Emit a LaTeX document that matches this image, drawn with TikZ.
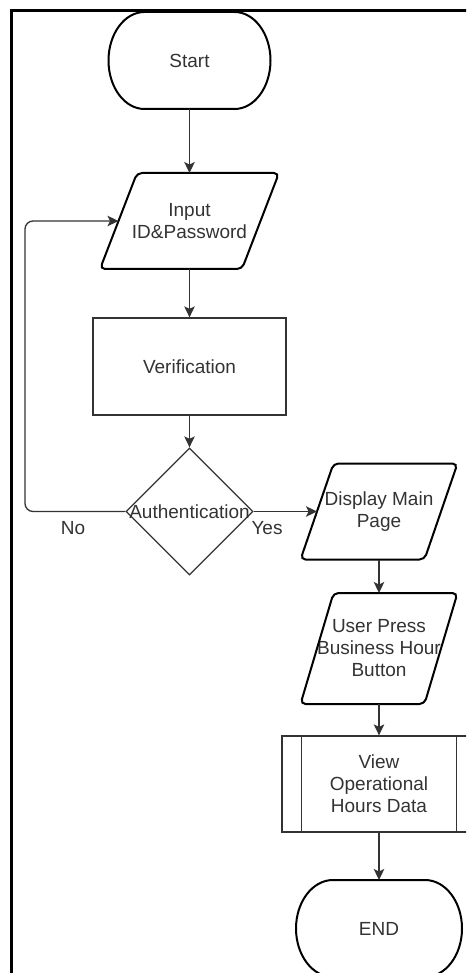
\documentclass[tikz,border=0pt]{standalone}
\usepackage{fontspec}
\setmainfont{Liberation Sans}
\usetikzlibrary{shapes.geometric,arrows.meta,calc}
\definecolor{ink}{HTML}{333333}
\begin{document}
\begin{tikzpicture}[x=1pt,y=-1pt,
  every node/.style={font=\fontsize{19}{22}\selectfont, text=ink, align=center},
  termspace/.style={minimum width=162pt, minimum height=97pt, inner sep=0pt, outer sep=0pt},
  termline/.style={draw=black, line width=2pt},
  proc/.style={draw=ink, line width=1.3pt, minimum width=193pt, minimum height=97pt, inner sep=0pt},
  iospace/.style={minimum height=96pt, inner sep=0pt, outer sep=0pt},
  iobox/.style={draw=black, line width=2pt, rounded corners=5pt},
  decision/.style={diamond, draw=ink, line width=1.3pt, minimum width=127pt, minimum height=127pt, inner sep=0pt, aspect=1},
  arr/.style={draw=ink, line width=1.3pt, -{Stealth[length=11pt,width=10.5pt,inset=2.5pt]}},
  frame/.style={draw=black, line width=2.5pt}]

% page area
\clip (0,0) rectangle (466,973);
\draw[frame] (11.5,1000) -- (11.5,10.5) -- (500,10.5);

% left column
\node[termspace] (start) at (189.5,60.5) {Start};
\draw[termline] ([xshift=36pt]start.north west) -- ([xshift=-36pt]start.north east)
  arc[start angle=90, end angle=-90, x radius=36pt, y radius=48.5pt]
  -- ([xshift=36pt]start.south west)
  arc[start angle=270, end angle=90, x radius=36pt, y radius=48.5pt] -- cycle;
\node[iospace, minimum width=179pt] (inp) at (189.5,221) {Input\\ID\&Password};
\draw[iobox] ([xshift=37pt]inp.north west) -- (inp.north east) -- ([xshift=-37pt]inp.south east) -- (inp.south west) -- cycle;
\coordinate (inpL) at ($(inp.west)+(18.5,0)$);
\node[proc] (ver) at (189.5,366.5) {Verification};
\node[decision] (auth) at (189.5,511.5) {};
\node (authtxt) at (auth) {Authentication};

% right column
\node[iospace, minimum width=157pt] (disp) at (379,511.5) {Display Main\\Page};
\draw[iobox] ([xshift=33pt]disp.north west) -- (disp.north east) -- ([xshift=-33pt]disp.south east) -- (disp.south west) -- cycle;
\coordinate (dispL) at ($(disp.west)+(16.5,0)$);
\node[iospace, minimum width=157pt, minimum height=111pt] (press) at (379,648.5) {User Press\\Business Hour\\Button};
\draw[iobox] ([xshift=33pt]press.north west) -- (press.north east) -- ([xshift=-33pt]press.south east) -- (press.south west) -- cycle;
\node[proc, minimum width=194pt, minimum height=96pt] (view) at (379,784) {View\\Operational\\Hours Data};
\draw[draw=ink, line width=1.3pt] ([xshift=20pt]view.north west) -- ([xshift=20pt]view.south west)
  ([xshift=-20pt]view.north east) -- ([xshift=-20pt]view.south east);
\node[termspace, minimum width=166pt] (end) at (379,928.5) {END};
\draw[termline] ([xshift=37pt]end.north west) -- ([xshift=-37pt]end.north east)
  arc[start angle=90, end angle=-90, x radius=37pt, y radius=48.5pt]
  -- ([xshift=37pt]end.south west)
  arc[start angle=270, end angle=90, x radius=37pt, y radius=48.5pt] -- cycle;

% connectors
\draw[arr] (start.south) -- (inp.north);
\draw[arr] (inp.south) -- (ver.north);
\draw[arr] (ver.south) -- (auth.north);
\draw[arr, rounded corners=8pt] (auth.west) -- (25,511.5) -- (25,221) -- (inpL);
\draw[arr] (auth.east) -- (dispL);
\draw[arr] (disp.south) -- (press.north);
\draw[arr] (press.south) -- (view.north);
\draw[arr] (view.south) -- (end.north);

% branch labels
\node (nolbl) at (73,528) {No};
\node (yeslbl) at (267,528) {Yes};
\end{tikzpicture}
\end{document}
